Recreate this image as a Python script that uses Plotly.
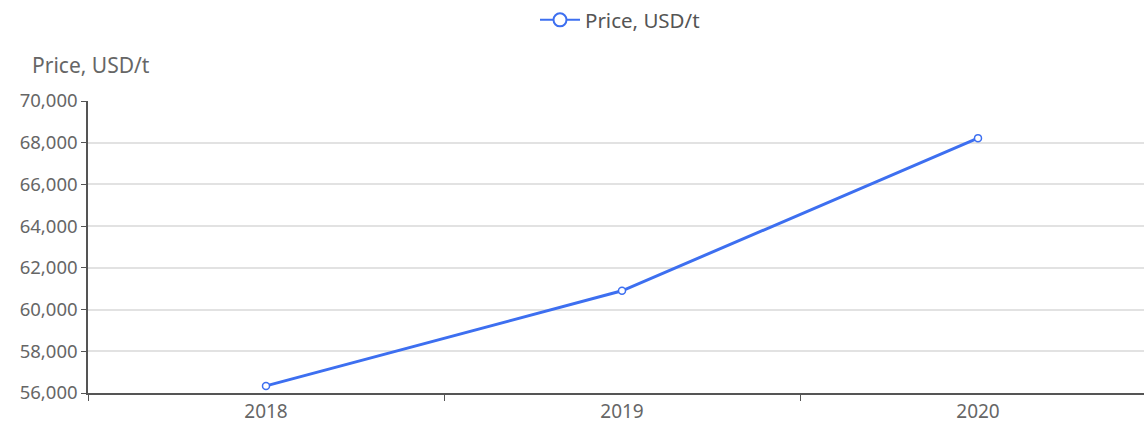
import plotly.graph_objects as go

years = ["2018", "2019", "2020"]
prices = [56340, 60900, 68220]
series_name = "Price, USD/t"
y_title = "Price, USD/t"

W, H = 1144, 425
ml, mr, mt, mb = 88, 0, 101, 32
pw, ph = W - ml - mr, H - mt - mb
blue = "#3d6ff0"

fig = go.Figure()
fig.add_trace(go.Scatter(
    x=years, y=prices, name=series_name, mode="lines+markers",
    line=dict(color=blue, width=3), showlegend=False,
    marker=dict(symbol="circle", size=7, color="white",
                line=dict(color=blue, width=1.5)),
))
# legend-only entry (larger symbol, thinner line as in the reference legend)
fig.add_trace(go.Scatter(
    x=[years[0]], y=[None], name=series_name, mode="lines+markers",
    line=dict(color=blue, width=2), showlegend=True, hoverinfo="skip",
    marker=dict(symbol="circle", size=13, color="white",
                line=dict(color=blue, width=2)),
))

font = "Noto Sans, Open Sans, sans-serif"
fig.update_layout(
    width=W, height=H,
    margin=dict(l=ml, r=mr, t=mt, b=mb, autoexpand=False),
    paper_bgcolor="white", plot_bgcolor="white",
    font=dict(family=font, size=18, color="#6e6e6e"),
    showlegend=True,
    legend=dict(orientation="h", x=(620 - ml) / pw, xanchor="center",
                y=(H - mb - 20) / ph, yanchor="middle",
                font=dict(size=20.5, color="#555"), itemwidth=40),
    xaxis=dict(type="category", range=[-0.5, -0.5 + pw / 356.0],
               automargin=False,
               showgrid=False, showline=True, linecolor="#555", linewidth=1.5,
               ticks="outside", tickson="boundaries", ticklen=6, tickcolor="#555",
               ticklabelstandoff=0,
               tickfont=dict(size=19, color="#666")),
    yaxis=dict(range=[56000, 70000], dtick=2000, tickformat=",",
               automargin=False,
               showgrid=True, gridcolor="#e2e2e2", gridwidth=1.5,
               showline=True, linecolor="#555", linewidth=1.5,
               ticks="outside", ticklen=5, tickcolor="#555",
               zeroline=False, tickfont=dict(size=18.5, color="#666")),
    annotations=[dict(text=y_title, xref="paper", yref="paper",
                      x=(30 - ml) / pw, xanchor="left",
                      y=(H - mb - 65) / ph, yanchor="middle",
                      showarrow=False, font=dict(size=21, color="#666"))],
)

fig.write_html("out.html", config={"displayModeBar": False},
               post_script="document.body.style.margin='0px';")
